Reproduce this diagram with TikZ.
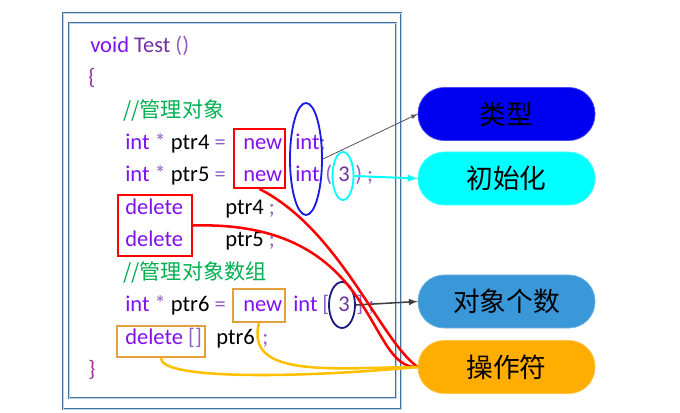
\documentclass[tikz,border=0pt]{standalone}
\usepackage{fontspec}
\setmainfont{Carlito}
\newfontfamily\cjk{Noto Sans CJK SC}
\usepackage{tikz}
\usetikzlibrary{arrows}
\usetikzlibrary{shapes.geometric}
\usetikzlibrary{fit}
\definecolor{kw}{HTML}{7F10F0}
\definecolor{fn}{HTML}{7030A0}
\definecolor{pun}{HTML}{9060C8}
\definecolor{brace}{HTML}{993399}
\definecolor{cmtgreen}{HTML}{00B050}
\definecolor{framedark}{HTML}{41719C}
\definecolor{framelight}{HTML}{BDD3EA}
\definecolor{typeblue}{HTML}{0000F0}
\definecolor{initcyan}{HTML}{00FFFF}
\definecolor{countblue}{HTML}{3A97D8}
\definecolor{opgold}{HTML}{FFAD00}
\definecolor{boxorange}{HTML}{E5A03C}
\definecolor{curveorange}{HTML}{FFC000}
\definecolor{ellblue}{HTML}{1A1AE6}
\definecolor{ellnavy}{HTML}{1A1A80}

\begin{document}
\begin{tikzpicture}[x=0.025cm,y=-0.025cm,
  code/.style={anchor=base west,inner sep=0pt,font=\fontsize{16}{19}\selectfont},
  cmt/.style={anchor=base west,inner sep=0pt,text=cmtgreen,font=\fontsize{15}{18}\selectfont\cjk},
  frame/.style={draw=framedark,double=framelight,double distance=0.7pt,line width=0.5pt},
  markbox/.style={draw,line width=1.4pt,inner sep=0pt},
  ell/.style={ellipse,draw,line width=1.3pt,inner sep=0pt},
  pill/.style={rounded corners=0.65cm,minimum width=4.425cm,minimum height=1.325cm,
    draw=#1!70!white,line width=0.5pt,fill=#1,font=\fontsize{19}{22}\selectfont\cjk},
  link/.style={line width=1.8pt}]
  \useasboundingbox (0,0) rectangle (680,413);
  \draw[frame] (63,13) rectangle (401,409);
  \draw[frame] (69,23) rectangle (396,398);

  \node[code] (l0) at (90,53) {\color{kw}void \color{fn}Test \color{pun}()};
  \node[code,text=brace] (l1) at (88,85) {\{};
  \node[cmt] (c1) at (123,118) {//管理对象};
  \node[code] (l3a) at (125,150) {\color{kw}int \color{pun}* \color{black}ptr4 \color{pun}=};
  \node[code,text=kw] (l3b) at (243,150) {new};
  \node[code] (l3c) at (295,150) {\color{kw}int\color{pun};};
  \node[code] (l4a) at (125,182) {\color{kw}int \color{pun}* \color{black}ptr5 \color{pun}=};
  \node[code,text=kw] (l4b) at (243,182) {new};
  \node[code,text=kw] (l4c) at (295,182) {int};
  \node[code,text=pun] (l4d) at (325,182) {(};
  \node[code,text=fn] (l4e) at (338,182) {3};
  \node[code,text=pun] (l4f) at (355,182) {) ;};
  \node[code,text=kw] (l5a) at (125,215) {delete};
  \node[code] (l5b) at (225,215) {ptr4 \color{pun};};
  \node[code,text=kw] (l6a) at (125,247) {delete};
  \node[code] (l6b) at (225,247) {ptr5 \color{pun};};
  \node[cmt] (c2) at (123,280) {//管理对象数组};
  \node[code] (l8a) at (125,312) {\color{kw}int \color{pun}* \color{black}ptr6 \color{pun}=};
  \node[code,text=kw] (l8b) at (243,312) {new};
  \node[code,text=kw] (l8c) at (293,312) {int};
  \node[code,text=pun] (l8d) at (322,312) {[};
  \node[code,text=fn] (l8e) at (338,312) {3};
  \node[code,text=pun] (l8f) at (356,312) {] ;};
  \node[code] (l9a) at (125,345) {\color{kw}delete \color{pun}[]};
  \node[code] (l9b) at (216,345) {ptr6};
  \node[code,text=pun] (l9c) at (262,345) {;};
  \node[code,text=brace] (l10) at (88,377) {\}};

  \node[markbox,draw=red,fit={(234,129) (285,188)}] (newbox) {};
  \node[markbox,draw=red,fit={(118,195) (192,256)}] (delbox) {};
  \node[markbox,draw=boxorange,fit={(233,289) (285,322)}] (newarrbox) {};
  \node[markbox,draw=boxorange,fit={(117,326) (205,357)}] (delarrbox) {};
  \node[ell,draw=ellblue,minimum width=0.8cm,minimum height=2.8cm] (typeell) at (306,159) {};
  \node[ell,draw=initcyan,minimum width=0.525cm,minimum height=1.2cm] (initell) at (343,176) {};
  \node[ell,draw=ellnavy,minimum width=0.65cm,minimum height=1.15cm] (countell) at (342,305) {};

  \node[pill=typeblue] (type) at (506.5,114) {类型};
  \node[pill=initcyan] (init) at (506.5,178.5) {初始化};
  \node[pill=countblue] (count) at (506.5,301.5) {对象个数};
  \node[pill=opgold] (op) at (506.5,367) {操作符};

  \draw[-latex,draw=black!65,line width=0.6pt] (typeell.east) -- (type.west);
  \draw[-latex,draw=initcyan,line width=1.4pt] (initell.east) -- (init.west);
  \draw[-latex,draw=black!75,line width=1.1pt] (countell.east) -- (count.west);
  \draw[link,red] (newbox.south) .. controls (340,230) and (380,340) .. (op.west);
  \draw[link,red] (delbox.east) .. controls (380,220) and (365,370) .. (op.west);
  \draw[link,curveorange] (delarrbox.south) .. controls (160,380) and (300,378) .. (op.west);
  \draw[link,curveorange] (newarrbox.south) .. controls (245,378) and (330,368) .. (op.west);
\end{tikzpicture}
\end{document}
